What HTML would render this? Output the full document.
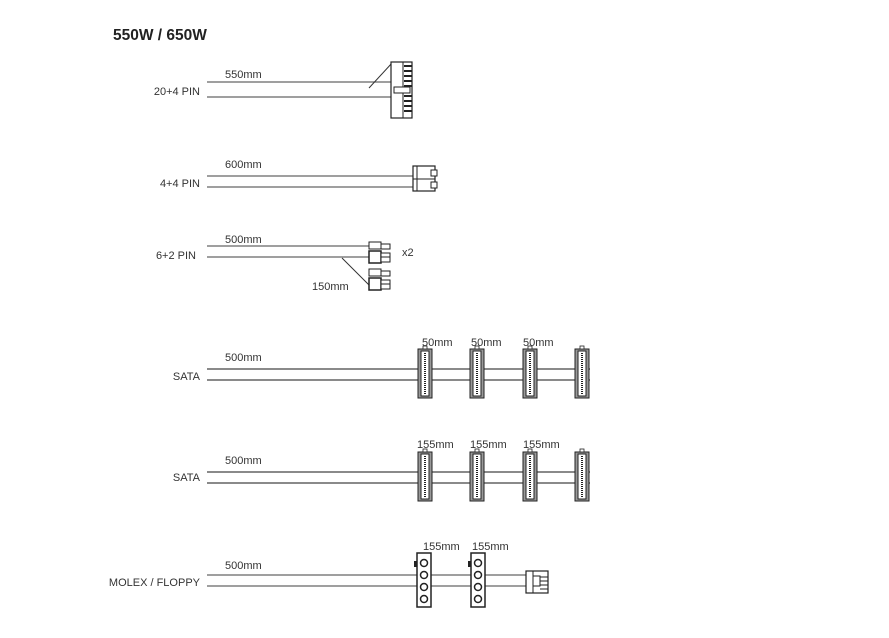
<!DOCTYPE html>
<html><head><style>body{margin:0;background:#fff}svg{display:block}text{font-family:"Liberation Sans",sans-serif;fill:#333;font-size:11px}</style></head><body>
<svg width="889" height="638" viewBox="0 0 889 638" xmlns="http://www.w3.org/2000/svg">
<defs>
<g id="sata">
<rect x="-7" y="0" width="14" height="49" fill="#999" stroke="#222" stroke-width="1"/>
<rect x="-4" y="2" width="8" height="45" fill="#fff" stroke="#222" stroke-width="1"/>
<line x1="0" y1="4" x2="0" y2="45" stroke="#222" stroke-width="2" stroke-dasharray="1,1"/>
<rect x="-2" y="-3" width="4" height="3" fill="#fff" stroke="#222" stroke-width="0.8"/>
</g>
<g id="molex">
<rect x="0" y="0" width="14" height="54" fill="#fff" stroke="#222" stroke-width="1.5"/>
<rect x="-3" y="8" width="3" height="6" fill="#222"/>
<circle cx="7" cy="10" r="3.5" fill="#fff" stroke="#222" stroke-width="1.5"/>
<circle cx="7" cy="22" r="3.5" fill="#fff" stroke="#222" stroke-width="1.5"/>
<circle cx="7" cy="34" r="3.5" fill="#fff" stroke="#222" stroke-width="1.5"/>
<circle cx="7" cy="46" r="3.5" fill="#fff" stroke="#222" stroke-width="1.5"/>
</g>
<g id="pcie">
<rect x="0" y="0" width="12" height="7" fill="#fff" stroke="#222"/>
<rect x="12" y="2" width="9" height="5" fill="#fff" stroke="#222"/>
<rect x="0" y="9" width="12" height="12" fill="#fff" stroke="#222" stroke-width="1.5"/>
<rect x="12" y="11" width="9" height="9" fill="#fff" stroke="#222"/>
<line x1="12" y1="15" x2="21" y2="15" stroke="#222"/>
</g>
</defs>
<text x="113" y="40" style="font-size:15.5px;font-weight:bold;fill:#222">550W / 650W</text>

<text x="200" y="95" text-anchor="end">20+4 PIN</text>
<text x="225" y="78">550mm</text>
<g stroke="#666" stroke-width="1.3"><line x1="207" y1="82" x2="391" y2="82"/><line x1="207" y1="97" x2="391" y2="97"/></g>
<line x1="369" y1="88" x2="392" y2="63" stroke="#333"/>
<rect x="391" y="62" width="21" height="56" fill="#fff" stroke="#222" stroke-width="1.2"/>
<g stroke="#222" stroke-width="2">
<line x1="404" y1="66" x2="412" y2="66"/><line x1="404" y1="71" x2="412" y2="71"/><line x1="404" y1="76" x2="412" y2="76"/><line x1="404" y1="81" x2="412" y2="81"/><line x1="404" y1="86" x2="412" y2="86"/>
<line x1="404" y1="96" x2="412" y2="96"/><line x1="404" y1="101" x2="412" y2="101"/><line x1="404" y1="106" x2="412" y2="106"/><line x1="404" y1="111" x2="412" y2="111"/>
</g>
<line x1="403" y1="62" x2="403" y2="118" stroke="#222"/>
<rect x="394" y="87" width="16" height="6" fill="#fff" stroke="#222"/>

<text x="200" y="187" text-anchor="end">4+4 PIN</text>
<text x="225" y="168">600mm</text>
<g stroke="#666" stroke-width="1.3"><line x1="207" y1="176" x2="413" y2="176"/><line x1="207" y1="187" x2="413" y2="187"/></g>
<rect x="413" y="166" width="22" height="25" fill="#fff" stroke="#222" stroke-width="1.2"/>
<line x1="417" y1="166" x2="417" y2="191" stroke="#222"/>
<line x1="413" y1="179" x2="435" y2="179" stroke="#222"/>
<rect x="431" y="170" width="6" height="6" fill="#fff" stroke="#222"/>
<rect x="431" y="182" width="6" height="6" fill="#fff" stroke="#222"/>

<text x="196" y="259" text-anchor="end">6+2 PIN</text>
<text x="225" y="243">500mm</text>
<g stroke="#666" stroke-width="1.3"><line x1="207" y1="246" x2="370" y2="246"/><line x1="207" y1="257" x2="370" y2="257"/></g>
<line x1="342" y1="258" x2="370" y2="286" stroke="#333"/>
<use href="#pcie" x="369" y="242"/>
<use href="#pcie" x="369" y="269"/>
<text x="402" y="256">x2</text>
<text x="312" y="290">150mm</text>

<text x="200" y="380" text-anchor="end">SATA</text>
<text x="225" y="361">500mm</text>
<g stroke="#444" stroke-width="1.3"><line x1="207" y1="369" x2="590" y2="369"/><line x1="207" y1="380" x2="590" y2="380"/></g>
<use href="#sata" x="425" y="349"/><use href="#sata" x="477" y="349"/><use href="#sata" x="530" y="349"/><use href="#sata" x="582" y="349"/>
<text x="422" y="346">50mm</text><text x="471" y="346">50mm</text><text x="523" y="346">50mm</text>

<text x="200" y="481" text-anchor="end">SATA</text>
<text x="225" y="464">500mm</text>
<g stroke="#444" stroke-width="1.3"><line x1="207" y1="472" x2="590" y2="472"/><line x1="207" y1="483" x2="590" y2="483"/></g>
<use href="#sata" x="425" y="452"/><use href="#sata" x="477" y="452"/><use href="#sata" x="530" y="452"/><use href="#sata" x="582" y="452"/>
<text x="417" y="448">155mm</text><text x="470" y="448">155mm</text><text x="523" y="448">155mm</text>

<text x="200" y="586" text-anchor="end">MOLEX / FLOPPY</text>
<text x="225" y="569">500mm</text>
<g stroke="#666" stroke-width="1.3"><line x1="207" y1="575" x2="527" y2="575"/><line x1="207" y1="586" x2="527" y2="586"/></g>
<use href="#molex" x="417" y="553"/><use href="#molex" x="471" y="553"/>
<text x="423" y="550">155mm</text><text x="472" y="550">155mm</text>
<rect x="526" y="571" width="22" height="22" fill="#fff" stroke="#222" stroke-width="1.2"/>
<line x1="533" y1="571" x2="533" y2="593" stroke="#222"/>
<rect x="533" y="576" width="7" height="10" fill="#fff" stroke="#222"/>
<g stroke="#222"><line x1="540" y1="577" x2="548" y2="577"/><line x1="540" y1="581" x2="548" y2="581"/><line x1="540" y1="585" x2="548" y2="585"/><line x1="540" y1="589" x2="548" y2="589"/></g>
</svg>
</body></html>
